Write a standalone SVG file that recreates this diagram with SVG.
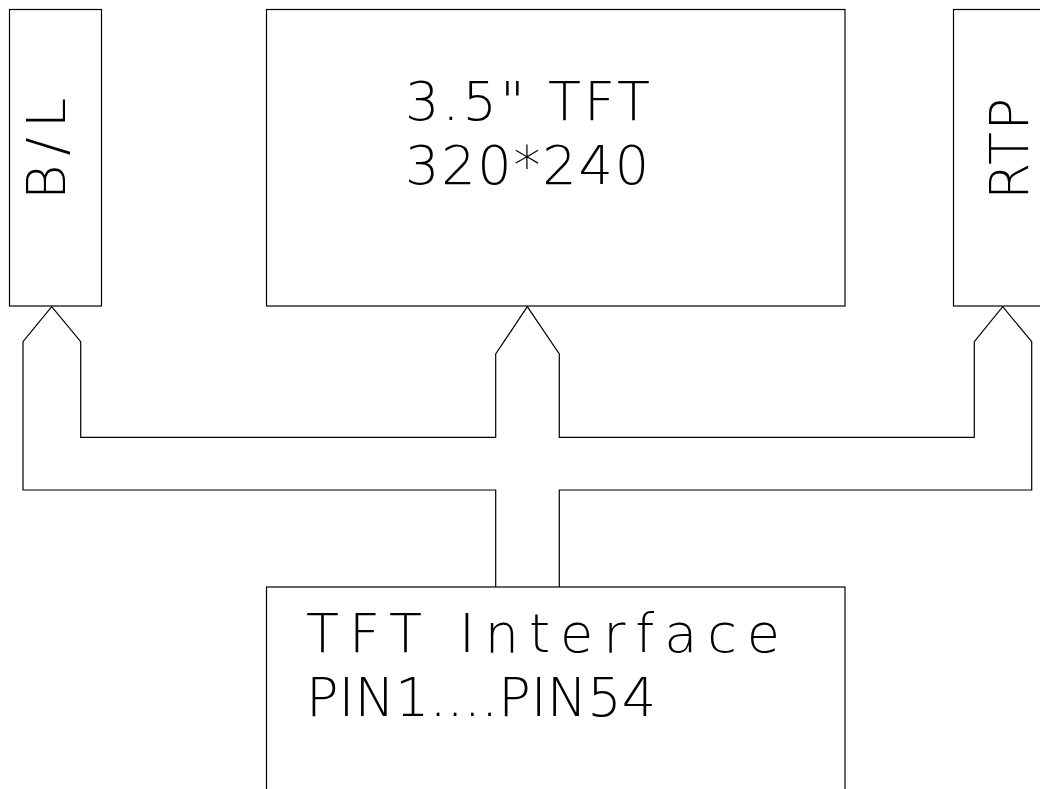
<svg xmlns="http://www.w3.org/2000/svg" width="1040" height="789" viewBox="0 0 1040 789">
<style>
.box{fill:none;stroke:#000;stroke-width:1.2}
.conn{fill:none;stroke:#000;stroke-width:1.2;stroke-linejoin:miter}
.t{font-family:"DejaVu Sans","Liberation Sans",sans-serif;font-size:54px;font-weight:200;fill:#000}
</style>
<rect width="1040" height="789" fill="#fff"/>
<g id="node-bl">
<rect class="box" x="9.5" y="9.5" width="92" height="296.5"/>
<text class="t" transform="translate(65,200) rotate(-90)" x="0" y="0" textLength="102" lengthAdjust="spacing">B/L</text>
</g>
<g id="node-tft">
<rect class="box" x="266.5" y="9.5" width="578.5" height="296.5"/>
<text class="t" x="405" y="119.5" textLength="245" lengthAdjust="spacing">3.5" TFT</text>
<text class="t" x="405" y="183.5" textLength="244" lengthAdjust="spacing">320*240</text>
</g>
<g id="node-rtp">
<rect class="box" x="953.5" y="9.5" width="100" height="296.5"/>
<text class="t" transform="translate(1028,200) rotate(-90)" x="0" y="0" textLength="102" lengthAdjust="spacing">RTP</text>
</g>
<g id="node-interface">
<rect class="box" x="266.5" y="587" width="578.5" height="220"/>
<text class="t" x="306" y="652" textLength="474" lengthAdjust="spacing">TFT Interface</text>
<text class="t" x="306" y="716" textLength="350" lengthAdjust="spacing">PIN1....PIN54</text>
</g>
<g id="connectors">
<path class="conn" d="M495.7,587 V490 H23 V341.7 L51.7,306.7 L80.7,341.7 V437.3 H495.7 V354 L527.3,306.7 L559.3,354 V437.3 H974.3 V341.7 L1002.7,306.7 L1031.7,341.7 V490 H559.3 V587"/>
</g>
</svg>
